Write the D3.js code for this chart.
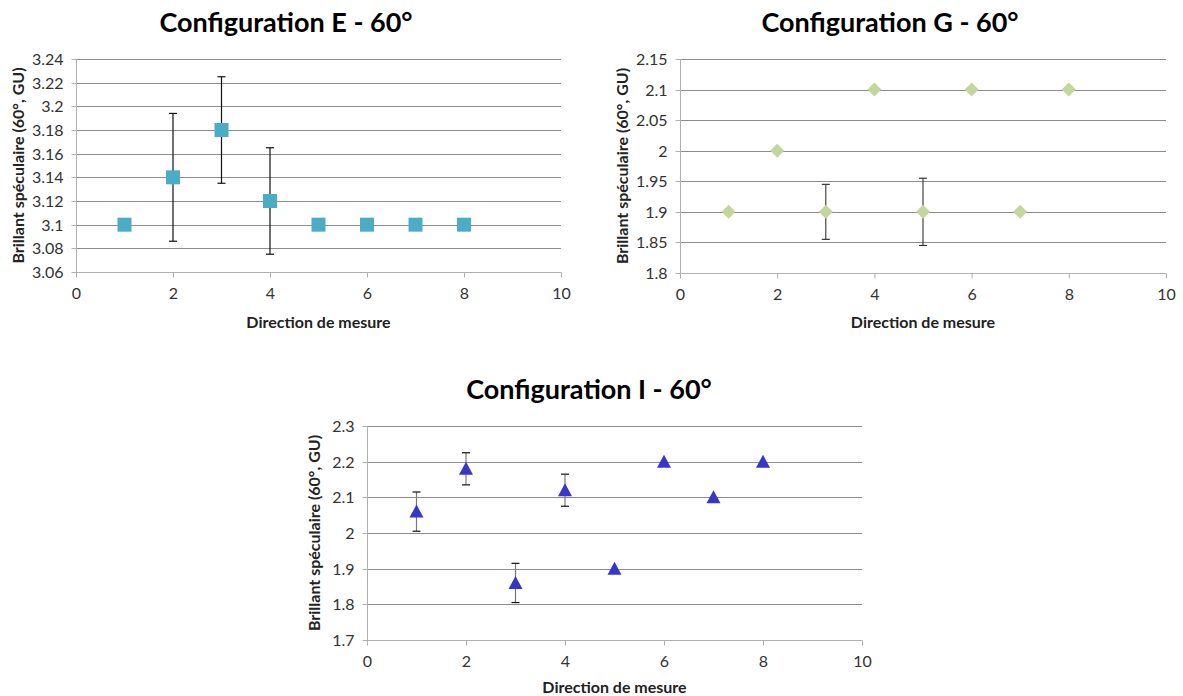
<!DOCTYPE html>
<html><head><meta charset="utf-8">
<script src="https://cdn.jsdelivr.net/npm/d3@7"></script>
<style>
body{margin:0;background:#fff;}
svg{display:block;font-family:Lato,"Open Sans",sans-serif;}
</style></head>
<body>
<svg id="c" width="1183" height="696"></svg>
<script>
// ---- data ----
const directions = [1, 2, 3, 4, 5, 6, 7, 8];
const xTicks = [0, 2, 4, 6, 8, 10];

const valuesE = [3.1, 3.14, 3.18, 3.12, 3.1, 3.1, 3.1, 3.1];
const errorsE = [0, 0.054, 0.045, 0.045, 0, 0, 0, 0];
const yTicksE = [3.06, 3.08, 3.1, 3.12, 3.14, 3.16, 3.18, 3.2, 3.22, 3.24];
const yTickLabelsE = ["3.06", "3.08", "3.1", "3.12", "3.14", "3.16", "3.18", "3.2", "3.22", "3.24"];

const valuesG = [1.9, 2.0, 1.9, 2.1, 1.9, 2.1, 1.9, 2.1];
const errorsG = [0, 0, 0.045, 0, 0.055, 0, 0, 0];
const yTicksG = [1.8, 1.85, 1.9, 1.95, 2.0, 2.05, 2.1, 2.15];
const yTickLabelsG = ["1.8", "1.85", "1.9", "1.95", "2", "2.05", "2.1", "2.15"];

const valuesI = [2.06, 2.18, 1.86, 2.12, 1.9, 2.2, 2.1, 2.2];
const errorsI = [0.055, 0.045, 0.055, 0.045, 0, 0, 0, 0];
const yTicksI = [1.7, 1.8, 1.9, 2.0, 2.1, 2.2, 2.3];
const yTickLabelsI = ["1.7", "1.8", "1.9", "2", "2.1", "2.2", "2.3"];

const titles = ["Configuration E - 60°", "Configuration G - 60°", "Configuration I - 60°"];
const xTitle = "Direction de mesure";
const yTitle = "Brillant spéculaire (60°, GU)";

// ---- drawing ----
const svg = d3.select("#c");

function drawChart(o) {
  const g = svg.append("g");
  const x = d3.scaleLinear().domain([0, 10]).range([o.left, o.right]);
  const y = d3.scaleLinear().domain([o.yTicks[0], o.yTicks[o.yTicks.length - 1]]).range([o.bottom, o.top]);

  // gridlines
  g.append("g").selectAll("line").data(o.yTicks.slice(1)).join("line")
    .attr("x1", o.left).attr("x2", o.right)
    .attr("y1", d => Math.round(y(d)) + 0.5).attr("y2", d => Math.round(y(d)) + 0.5)
    .attr("stroke", "#8c8c8c").attr("stroke-width", 1);

  // y axis
  const ya = d3.axisLeft(y).tickValues(o.yTicks).tickSize(5).tickPadding(8)
    .tickFormat((d, i) => o.yLabels[i]);
  const yg = g.append("g").attr("transform", `translate(${Math.round(o.left) + 0.5},0)`).call(ya);
  yg.selectAll(".tick line").attr("stroke", "#b0b0b0");
  yg.selectAll(".tick").attr("transform", d => `translate(0,${Math.round(y(d)) + 0.5})`);
  yg.select(".domain").attr("stroke", "#b0b0b0").attr("d", `M-0,${o.top}V${o.bottom}`);
  yg.selectAll("text").attr("font-size", 16).attr("fill", "#333").attr("font-family", "Lato");

  // x axis
  const xa = d3.axisBottom(x).tickValues(xTicks).tickSize(5).tickPadding(10).tickFormat(d3.format("d"));
  const xg = g.append("g").attr("transform", `translate(0,${Math.round(o.bottom) + 0.5})`).call(xa);
  xg.select(".domain").attr("stroke", "#b0b0b0").attr("d", `M${o.left},0H${o.right}`);
  xg.selectAll(".tick line").attr("stroke", "#b0b0b0");
  xg.selectAll("text").attr("font-size", 16).attr("fill", "#333").attr("font-family", "Lato");

  // error bars
  const eb = g.append("g");
  const pts = directions.map((d, i) => ({ x: d, v: o.values[i], e: o.errors[i] })).filter(p => p.e > 0);
  eb.selectAll("line.stem").data(pts).join("line").attr("class", "stem")
    .attr("x1", p => x(p.x)).attr("x2", p => x(p.x))
    .attr("y1", p => y(p.v + p.e)).attr("y2", p => y(p.v - p.e))
    .attr("stroke", o.stemColor).attr("stroke-width", 1.2);
  eb.selectAll("line.capt").data(pts).join("line").attr("class", "capt")
    .attr("x1", p => x(p.x) - 4).attr("x2", p => x(p.x) + 4)
    .attr("y1", p => y(p.v + p.e)).attr("y2", p => y(p.v + p.e))
    .attr("stroke", o.capColor).attr("stroke-width", 1.2);
  eb.selectAll("line.capb").data(pts).join("line").attr("class", "capb")
    .attr("x1", p => x(p.x) - 4).attr("x2", p => x(p.x) + 4)
    .attr("y1", p => y(p.v - p.e)).attr("y2", p => y(p.v - p.e))
    .attr("stroke", o.capColor).attr("stroke-width", 1.2);

  // markers
  g.append("g").selectAll("path").data(directions.map((d, i) => ({ x: d, v: o.values[i] }))).join("path")
    .attr("transform", p => `translate(${x(p.x)},${y(p.v)})`)
    .attr("d", o.marker)
    .attr("fill", o.color);

  // titles
  g.append("text").attr("x", o.titleX).attr("y", o.titleY).attr("text-anchor", "middle")
    .attr("font-size", 27).attr("font-weight", "bold").attr("fill", "#000").text(o.title);
  g.append("text").attr("x", (o.left + o.right) / 2).attr("y", o.xTitleY).attr("text-anchor", "middle")
    .attr("font-size", 16).attr("font-weight", "bold").attr("fill", "#222").text(xTitle);
  g.append("text").attr("transform", `translate(${o.yTitleX},${(o.top + o.bottom) / 2}) rotate(-90)`)
    .attr("text-anchor", "middle").attr("dy", "0.35em")
    .attr("font-size", 16).attr("font-weight", "bold").attr("fill", "#222").text(yTitle);
}

const square = "M-7,-7H7V7H-7Z";
const diamond = "M0,-7L7,0L0,7L-7,0Z";
const triangle = "M0,-7L7,6L-7,6Z";

drawChart({ left: 76, right: 561, top: 59, bottom: 272, yTicks: yTicksE, yLabels: yTickLabelsE,
  values: valuesE, errors: errorsE, color: "#4bacc6", marker: square, stemColor: "#111", capColor: "#111",
  title: titles[0], titleX: 286, titleY: 32, xTitleY: 328, yTitleX: 18 });
drawChart({ left: 680, right: 1166, top: 59, bottom: 273, yTicks: yTicksG, yLabels: yTickLabelsG,
  values: valuesG, errors: errorsG, color: "#c3d69b", marker: diamond, stemColor: "#444", capColor: "#333",
  title: titles[1], titleX: 890, titleY: 32, xTitleY: 328, yTitleX: 622 });
drawChart({ left: 367, right: 862, top: 426, bottom: 640, yTicks: yTicksI, yLabels: yTickLabelsI,
  values: valuesI, errors: errorsI, color: "#3636c8", marker: triangle, stemColor: "#777", capColor: "#111",
  title: titles[2], titleX: 589, titleY: 399, xTitleY: 693, yTitleX: 314 });
</script>
</body></html>
